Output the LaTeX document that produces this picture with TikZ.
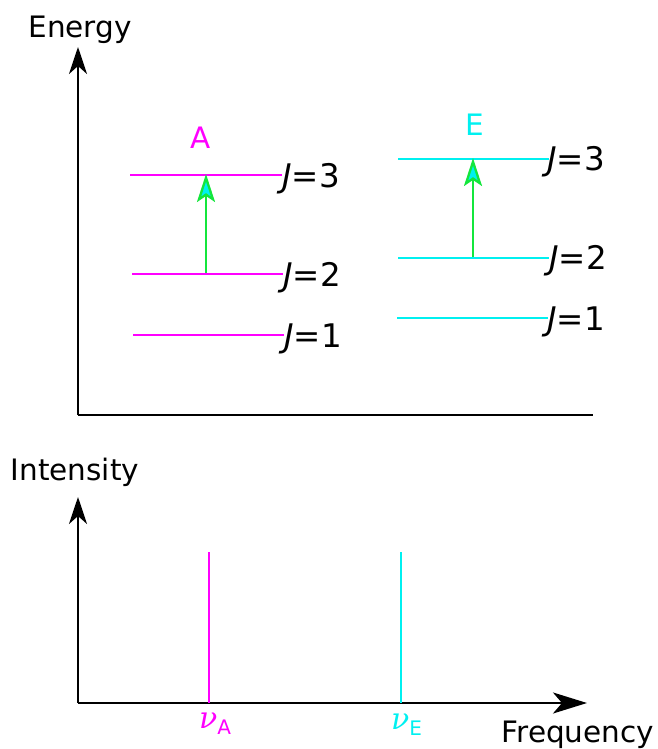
\documentclass[tikz,border=0pt]{standalone}
\usepackage{fontspec}
\setmainfont{DejaVu Sans}
\newfontfamily\nufont{DejaVu Serif}
\usetikzlibrary{arrows.meta}
\definecolor{magA}{RGB}{255,0,255}
\definecolor{cyE}{RGB}{0,240,240}
\definecolor{grn}{RGB}{20,230,60}
\newcommand{\freqlab}[1]{{\fontsize{30}{32}\selectfont\nufont\itshape ν}{\fontsize{20}{22}\selectfont\raisebox{-6pt}{#1}}}
\begin{document}
\begin{tikzpicture}[x=1pt,y=-1pt,
  every node/.style={font=\fontsize{29.5}{32}\selectfont, inner sep=0pt},
  axis/.style={draw=black, line width=2.2pt, -{Stealth[length=27pt,width=18pt,inset=8pt]}},
  faxis/.style={draw=black, line width=2.2pt, -{Stealth[length=34pt,width=21pt,inset=9pt]}},
  levA/.style={draw=magA, line width=1.9pt},
  levE/.style={draw=cyE, line width=1.9pt},
  trans/.style={draw=grn, line width=2.3pt, -{Stealth[length=28pt,width=18pt,inset=6pt,fill=cyE]}},
  jlab/.style={anchor=west, font=\fontsize{32.5}{35}\selectfont},
  nulab/.style={anchor=base west}
]
\useasboundingbox (0,0) rectangle (657,749);
% energy axes
\coordinate (eo) at (78,415);
\coordinate (etop) at (78,47);
\coordinate (eright) at (593,415);
\draw[axis] (eo) -- (etop);
\draw[line width=2.2pt] (eo) -- (eright);
\node (energy) at (80,30) {Energy};
% A levels
\coordinate (a3l) at (130,175); \coordinate (a3r) at (282,175);
\coordinate (a2l) at (132,274); \coordinate (a2r) at (283,274);
\coordinate (a1l) at (133,335); \coordinate (a1r) at (284,335);
\draw[levA] (a3l) -- (a3r);
\draw[levA] (a2l) -- (a2r);
\draw[levA] (a1l) -- (a1r);
\node[jlab] (ja3) at (282,179) {\textit{J}=3};
\node[jlab] (ja2) at (283,278) {\textit{J}=2};
\node[jlab] (ja1) at (284,339) {\textit{J}=1};
\node[text=magA] (labA) at (201,138) {A};
\coordinate (ta0) at (206,273); \coordinate (ta1) at (206,174);
\draw[trans] (ta0) -- (ta1);
% E levels
\coordinate (e3l) at (398,159); \coordinate (e3r) at (549,159);
\coordinate (e2l) at (398,258); \coordinate (e2r) at (549,258);
\coordinate (e1l) at (397,318); \coordinate (e1r) at (548,318);
\draw[levE] (e3l) -- (e3r);
\draw[levE] (e2l) -- (e2r);
\draw[levE] (e1l) -- (e1r);
\node[jlab] (je3) at (547,162) {\textit{J}=3};
\node[jlab] (je2) at (549,261) {\textit{J}=2};
\node[jlab] (je1) at (547,322) {\textit{J}=1};
\node[text=cyE] (labE) at (475,125) {E};
\coordinate (te0) at (473,257); \coordinate (te1) at (473,158);
\draw[trans] (te0) -- (te1);
% spectrum axes
\coordinate (so) at (78,703);
\coordinate (stop) at (78,497);
\coordinate (sright) at (587,703);
\draw[axis] (so) -- (stop);
\draw[faxis] (so) -- (sright);
\node (intensity) at (75,472) {Intensity};
\node (freq) at (578,735) {Frequency};
% peaks
\coordinate (pa0) at (209,703); \coordinate (pa1) at (209,552);
\coordinate (pe0) at (401,703); \coordinate (pe1) at (401,552);
\draw[levA] (pa0) -- (pa1);
\draw[levE] (pe0) -- (pe1);
\node[nulab, text=magA] (nuA) at (199,728) {\freqlab{A}};
\node[nulab, text=cyE] (nuE) at (391,729) {\freqlab{E}};
\end{tikzpicture}
\end{document}
